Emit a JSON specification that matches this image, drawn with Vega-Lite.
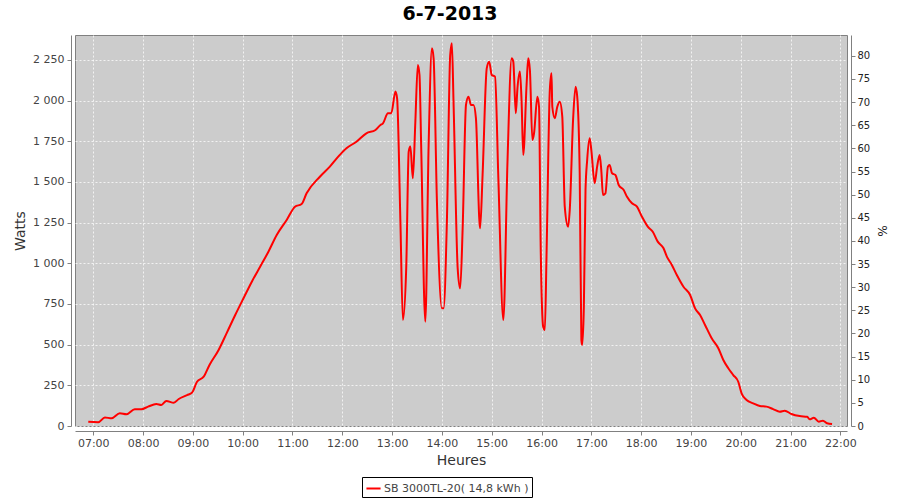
{
  "$schema": "https://vega.github.io/schema/vega-lite/v6.json",
  "autosize": {"type": "none"},
  "width": 772,
  "height": 391,
  "padding": {"left": 75, "top": 35, "right": 53, "bottom": 74},
  "background": "white",
  "title": {"text": "6-7-2013", "font": "DejaVu Sans", "fontSize": 19, "fontWeight": "bold", "color": "#000000", "anchor": "middle", "offset": 8, "dx": -11},
  "config": {
    "view": {"fill": "#cccccc", "stroke": "#808080", "strokeWidth": 1},
    "axis": {"labelFont": "DejaVu Sans", "titleFont": "DejaVu Sans", "labelColor": "#444444", "titleColor": "#444444", "domainColor": "#808080", "tickColor": "#808080", "gridColor": "#ffffff", "gridDash": [2, 2], "gridOpacity": 0.75, "titleFontWeight": "normal", "titleFontSize": 14, "labelFontSize": 11, "tickSize": 4}
  },
  "layer": [
    {
      "data": {
        "format": {"parse": {"t": "date:'%H:%M'"}},
        "values": [
          {"t": "06:54", "w": 26}, {"t": "07:06", "w": 23}, {"t": "07:14", "w": 53}, {"t": "07:22", "w": 47},
          {"t": "07:32", "w": 78}, {"t": "07:40", "w": 72}, {"t": "07:50", "w": 103}, {"t": "07:58", "w": 103},
          {"t": "08:06", "w": 119}, {"t": "08:16", "w": 135}, {"t": "08:22", "w": 129}, {"t": "08:28", "w": 154},
          {"t": "08:37", "w": 143}, {"t": "08:43", "w": 166}, {"t": "08:53", "w": 190}, {"t": "08:59", "w": 205},
          {"t": "09:05", "w": 272}, {"t": "09:13", "w": 303}, {"t": "09:20", "w": 375}, {"t": "09:31", "w": 467},
          {"t": "09:41", "w": 574}, {"t": "09:51", "w": 682}, {"t": "10:01", "w": 785}, {"t": "10:11", "w": 887},
          {"t": "10:21", "w": 979}, {"t": "10:31", "w": 1071}, {"t": "10:41", "w": 1174}, {"t": "10:53", "w": 1266},
          {"t": "11:03", "w": 1348}, {"t": "11:11", "w": 1364}, {"t": "11:17", "w": 1430}, {"t": "11:33", "w": 1532},
          {"t": "11:45", "w": 1594}, {"t": "11:57", "w": 1666}, {"t": "12:05", "w": 1707}, {"t": "12:17", "w": 1747},
          {"t": "12:29", "w": 1799}, {"t": "12:40", "w": 1819}, {"t": "12:46", "w": 1850}, {"t": "12:49", "w": 1860},
          {"t": "12:55", "w": 1922}, {"t": "12:59", "w": 1922}, {"t": "13:04", "w": 2055}, {"t": "13:06", "w": 2014},
          {"t": "13:10", "w": 1256}, {"t": "13:13", "w": 651}, {"t": "13:17", "w": 969}, {"t": "13:20", "w": 1686},
          {"t": "13:22", "w": 1717}, {"t": "13:25", "w": 1522}, {"t": "13:28", "w": 1870}, {"t": "13:31", "w": 2219},
          {"t": "13:33", "w": 2157}, {"t": "13:35", "w": 1727}, {"t": "13:40", "w": 641}, {"t": "13:44", "w": 1727},
          {"t": "13:48", "w": 2321}, {"t": "13:50", "w": 2260}, {"t": "13:54", "w": 1379}, {"t": "14:00", "w": 723},
          {"t": "14:02", "w": 723}, {"t": "14:06", "w": 1256}, {"t": "14:10", "w": 2280}, {"t": "14:12", "w": 2352},
          {"t": "14:14", "w": 1993}, {"t": "14:19", "w": 969}, {"t": "14:22", "w": 846}, {"t": "14:25", "w": 1215},
          {"t": "14:29", "w": 1973}, {"t": "14:32", "w": 2024}, {"t": "14:35", "w": 1973}, {"t": "14:38", "w": 1973},
          {"t": "14:41", "w": 1891}, {"t": "14:45", "w": 1276}, {"t": "14:46", "w": 1215}, {"t": "14:49", "w": 1543},
          {"t": "14:54", "w": 2198}, {"t": "14:57", "w": 2239}, {"t": "15:00", "w": 2157}, {"t": "15:04", "w": 2147},
          {"t": "15:08", "w": 1522}, {"t": "15:14", "w": 651}, {"t": "15:19", "w": 1624}, {"t": "15:24", "w": 2260},
          {"t": "15:26", "w": 2239}, {"t": "15:29", "w": 1922}, {"t": "15:31", "w": 2075}, {"t": "15:34", "w": 2178},
          {"t": "15:36", "w": 1993}, {"t": "15:38", "w": 1666}, {"t": "15:42", "w": 2096}, {"t": "15:44", "w": 2260},
          {"t": "15:46", "w": 2188}, {"t": "15:49", "w": 1758}, {"t": "15:51", "w": 1799}, {"t": "15:55", "w": 2024},
          {"t": "15:57", "w": 1962}, {"t": "15:59", "w": 1102}, {"t": "16:02", "w": 610}, {"t": "16:04", "w": 590},
          {"t": "16:06", "w": 1041}, {"t": "16:10", "w": 2065}, {"t": "16:12", "w": 2168}, {"t": "16:13", "w": 1962},
          {"t": "16:16", "w": 1891}, {"t": "16:19", "w": 1962}, {"t": "16:22", "w": 1993}, {"t": "16:25", "w": 1901},
          {"t": "16:28", "w": 1348}, {"t": "16:32", "w": 1225}, {"t": "16:34", "w": 1327}, {"t": "16:38", "w": 1881},
          {"t": "16:41", "w": 2085}, {"t": "16:43", "w": 2024}, {"t": "16:46", "w": 1553}, {"t": "16:48", "w": 529},
          {"t": "16:49", "w": 498}, {"t": "16:51", "w": 733}, {"t": "16:53", "w": 1450}, {"t": "16:55", "w": 1635},
          {"t": "16:58", "w": 1768}, {"t": "17:00", "w": 1696}, {"t": "17:04", "w": 1492}, {"t": "17:07", "w": 1594},
          {"t": "17:10", "w": 1666}, {"t": "17:12", "w": 1573}, {"t": "17:14", "w": 1420}, {"t": "17:17", "w": 1430},
          {"t": "17:20", "w": 1594}, {"t": "17:22", "w": 1604}, {"t": "17:25", "w": 1553}, {"t": "17:29", "w": 1543},
          {"t": "17:33", "w": 1481}, {"t": "17:39", "w": 1450}, {"t": "17:43", "w": 1409}, {"t": "17:49", "w": 1369},
          {"t": "17:55", "w": 1348}, {"t": "18:01", "w": 1286}, {"t": "18:08", "w": 1225}, {"t": "18:14", "w": 1194},
          {"t": "18:20", "w": 1133}, {"t": "18:27", "w": 1092}, {"t": "18:31", "w": 1041}, {"t": "18:37", "w": 990},
          {"t": "18:43", "w": 928}, {"t": "18:51", "w": 856}, {"t": "18:59", "w": 805}, {"t": "19:05", "w": 723},
          {"t": "19:11", "w": 682}, {"t": "19:17", "w": 621}, {"t": "19:25", "w": 539}, {"t": "19:33", "w": 478},
          {"t": "19:39", "w": 406}, {"t": "19:45", "w": 355}, {"t": "19:51", "w": 313}, {"t": "19:57", "w": 272},
          {"t": "20:01", "w": 201}, {"t": "20:07", "w": 160}, {"t": "20:15", "w": 139}, {"t": "20:23", "w": 123},
          {"t": "20:31", "w": 119}, {"t": "20:39", "w": 104}, {"t": "20:47", "w": 88}, {"t": "20:53", "w": 94},
          {"t": "21:01", "w": 74}, {"t": "21:11", "w": 61}, {"t": "21:20", "w": 57}, {"t": "21:23", "w": 41},
          {"t": "21:28", "w": 51}, {"t": "21:34", "w": 26}, {"t": "21:39", "w": 33}, {"t": "21:44", "w": 17},
          {"t": "21:50", "w": 12}
        ]
      },
      "mark": {"type": "line", "interpolate": "monotone", "strokeWidth": 2},
      "encoding": {
        "x": {
          "field": "t", "type": "temporal", "title": "Heures",
          "scale": {"domain": [{"year": 1900, "month": 1, "date": 1, "hours": 6, "minutes": 38}, {"year": 1900, "month": 1, "date": 1, "hours": 22, "minutes": 8}], "nice": false},
          "axis": {
            "format": "%H:%M", "offset": 5, "labelPadding": 2, "titlePadding": 5, "titleColor": "#333333",
            "values": [
              {"year": 1900, "month": 1, "date": 1, "hours": 7}, {"year": 1900, "month": 1, "date": 1, "hours": 8},
              {"year": 1900, "month": 1, "date": 1, "hours": 9}, {"year": 1900, "month": 1, "date": 1, "hours": 10},
              {"year": 1900, "month": 1, "date": 1, "hours": 11}, {"year": 1900, "month": 1, "date": 1, "hours": 12},
              {"year": 1900, "month": 1, "date": 1, "hours": 13}, {"year": 1900, "month": 1, "date": 1, "hours": 14},
              {"year": 1900, "month": 1, "date": 1, "hours": 15}, {"year": 1900, "month": 1, "date": 1, "hours": 16},
              {"year": 1900, "month": 1, "date": 1, "hours": 17}, {"year": 1900, "month": 1, "date": 1, "hours": 18},
              {"year": 1900, "month": 1, "date": 1, "hours": 19}, {"year": 1900, "month": 1, "date": 1, "hours": 20},
              {"year": 1900, "month": 1, "date": 1, "hours": 21}, {"year": 1900, "month": 1, "date": 1, "hours": 22}
            ]
          }
        },
        "y": {
          "field": "w", "type": "quantitative", "title": "Watts",
          "scale": {"domain": [0, 2403], "nice": false},
          "axis": {"values": [0, 250, 500, 750, 1000, 1250, 1500, 1750, 2000, 2250], "labelExpr": "replace(format(datum.value, ','), ',', ' ')", "offset": 4, "labelPadding": 3, "titlePadding": 5, "titleColor": "#333333"}
        },
        "color": {
          "datum": "SB 3000TL-20( 14,8 kWh )",
          "scale": {"range": ["#ff0000"]},
          "legend": {"title": null, "orient": "none", "legendX": 287, "legendY": 442, "symbolType": "stroke", "symbolStrokeWidth": 2, "symbolSize": 200, "labelFont": "DejaVu Sans", "labelFontSize": 11, "labelColor": "#444444", "strokeColor": "#000000", "padding": 3, "labelOffset": 2}
        }
      }
    },
    {
      "data": {"values": [{"p": 0}, {"p": 84.5}]},
      "mark": {"type": "point", "opacity": 0},
      "encoding": {
        "y": {
          "field": "p", "type": "quantitative", "title": "%",
          "scale": {"domain": [0, 84.5], "nice": false},
          "axis": {"orient": "right", "values": [0, 5, 10, 15, 20, 25, 30, 35, 40, 45, 50, 55, 60, 65, 70, 75, 80], "grid": false, "offset": 4, "labelFontSize": 10, "labelColor": "#222222", "labelPadding": 2, "titlePadding": 5, "titleFontSize": 12, "titleColor": "#222222"}
        }
      }
    }
  ],
  "resolve": {"scale": {"y": "independent"}}
}
